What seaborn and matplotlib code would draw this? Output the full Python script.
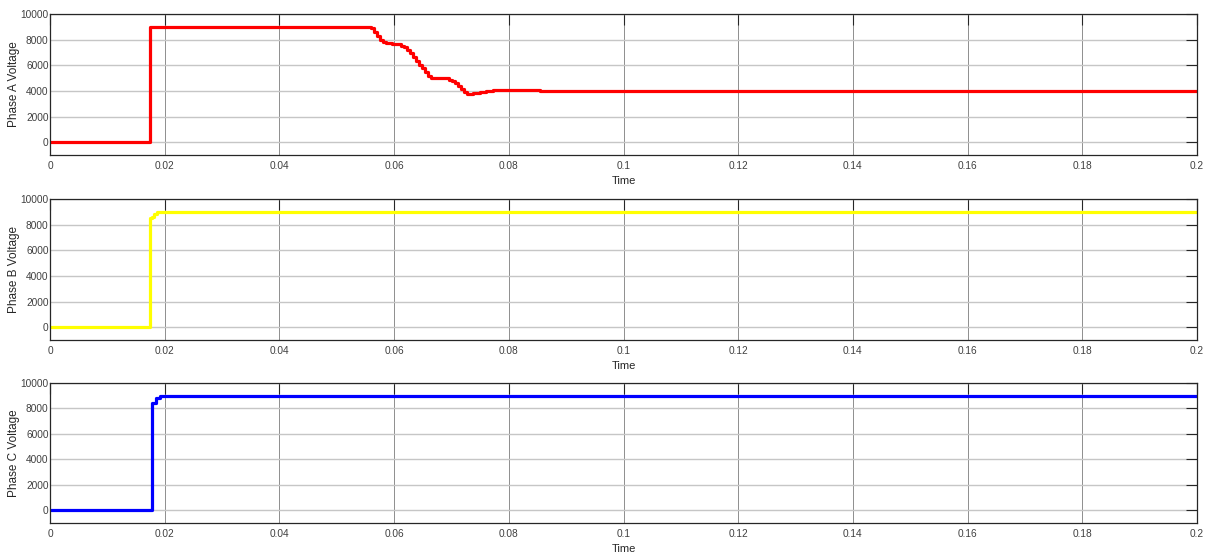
import numpy as np
import pandas as pd
import matplotlib
matplotlib.use("Agg")
import matplotlib.pyplot as plt
import seaborn as sns

# Phase A (time, voltage)
time_a = [0.0, 0.01744, 0.01750, 0.05545, 0.05597, 0.05650, 0.05702, 0.05754,
          0.05806, 0.05859, 0.05911, 0.05963, 0.06016, 0.06068, 0.06120,
          0.06173, 0.06225, 0.06277, 0.06330, 0.06382, 0.06434, 0.06487,
          0.06539, 0.06591, 0.06643, 0.06696, 0.06905, 0.06957, 0.07010,
          0.07062, 0.07114, 0.07167, 0.07219, 0.07271, 0.07376, 0.07428,
          0.07498, 0.07603, 0.07725, 0.07847, 0.08021, 0.08283, 0.08544,
          0.08893, 0.09590, 0.2]
volt_a = [0, 0, 8950, 8950, 8900, 8600, 8250, 7950,
          7780, 7720, 7700, 7680, 7660, 7640, 7520,
          7420, 7180, 6930, 6620, 6300, 6000, 5780,
          5450, 5200, 5020, 4990, 4970, 4880, 4760,
          4600, 4380, 4150, 3900, 3780, 3800, 3860,
          3940, 4030, 4080, 4100, 4080, 4050, 4020,
          4010, 4000, 4000]

# Phase B
time_b = [0.0, 0.01744, 0.01750, 0.01780, 0.01815, 0.01870, 0.2]
volt_b = [0, 0, 8550, 8600, 8800, 8950, 8950]

# Phase C
time_c = [0.0, 0.01770, 0.01776, 0.01810, 0.01850, 0.01910, 0.2]
volt_c = [0, 0, 8400, 8450, 8850, 8950, 8950]

labels = ["Phase A Voltage", "Phase B Voltage", "Phase C Voltage"]
colors = ["#ff0000", "#ffff00", "#0000ff"]
xticks = [0, 0.02, 0.04, 0.06, 0.08, 0.1, 0.12, 0.14, 0.16, 0.18, 0.2]
xticklabels = ["0", "0.02", "0.04", "0.06", "0.08", "0.1", "0.12", "0.14", "0.16", "0.18", "0.2"]
yticks = [0, 2000, 4000, 6000, 8000, 10000]

sns.set_theme(style="white")
plt.rcParams["font.family"] = ["Liberation Sans", "DejaVu Sans"]

fig = plt.figure(figsize=(12.1, 5.53), dpi=100)
positions = [(0.0413, 0.7197, 0.948, 0.2550),
             (0.0413, 0.3852, 0.948, 0.2549),
             (0.0413, 0.0542, 0.948, 0.2532)]
series = [(time_a, volt_a), (time_b, volt_b), (time_c, volt_c)]

for pos, (t, v), lab, col in zip(positions, series, labels, colors):
    ax = fig.add_axes(pos)
    df = pd.DataFrame({"Time": t, "V": v})
    sns.lineplot(data=df, x="Time", y="V", ax=ax, color=col, linewidth=2.3,
                 sort=False, estimator=None, drawstyle="steps-post")
    ax.set_xlim(0, 0.2)
    ax.set_ylim(-1000, 10000)
    ax.set_xticks(xticks)
    ax.set_xticklabels(xticklabels)
    ax.set_yticks(yticks)
    ax.xaxis.grid(True, color="#8e8e8e", linewidth=0.7)
    ax.yaxis.grid(True, color="#c6c6c6", linewidth=1.0)
    ax.set_axisbelow(True)
    ax.tick_params(direction="in", length=8, width=0.8, colors="#262626",
                   labelsize=7.3, labelcolor="#404040", top=True, right=True)
    ax.tick_params(axis="y", pad=1.0)
    ax.tick_params(axis="x", pad=4)
    for s in ax.spines.values():
        s.set_color("#262626")
        s.set_linewidth(0.9)
    ax.set_ylabel(lab, fontsize=8.5, color="#262626", labelpad=0.5)
    ax.set_xlabel("Time", fontsize=8, color="#262626", labelpad=4)

fig.savefig("out.png", dpi=100)
